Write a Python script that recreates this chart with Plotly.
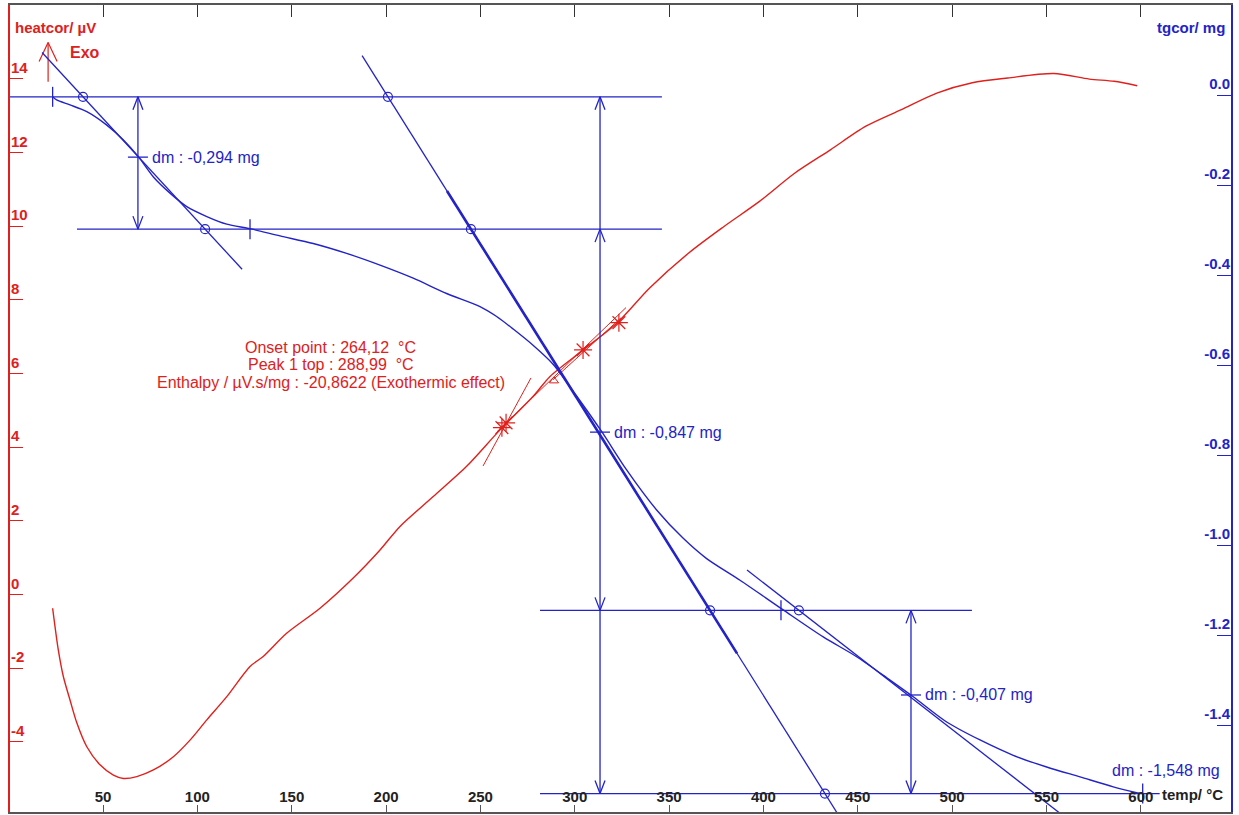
import plotly.graph_objects as go

RED = "#e0201c"
BLUE = "#2323c8"
GRAY = "#555555"
FONT = "Arial, Liberation Sans, sans-serif"

# ---------------- data ----------------
dsc_temp = [23.3, 26.3, 29.0, 32.5, 36.1, 41.4, 48.4, 55.5, 60.8, 67.9, 76.7, 87.3, 96.1,
            105.0, 115.6, 127.9, 134.9, 147.3, 165.0, 182.6, 196.8, 207.4, 225.0, 242.7,
            260.4, 278.0, 286.9, 304.5, 322.4, 339.7, 360.4, 379.1, 397.9, 416.7, 435.5,
            454.3, 473.1, 491.9, 510.7, 529.5, 553.9, 572.7, 585.9, 598.1]
dsc_heat = [-0.37, -1.50, -2.23, -2.86, -3.48, -4.13, -4.62, -4.90, -4.99, -4.94, -4.76,
            -4.40, -3.95, -3.40, -2.77, -1.95, -1.68, -1.05, -0.37, 0.45, 1.21, 1.85, 2.66,
            3.48, 4.47, 5.38, 5.92, 6.64, 7.37, 8.32, 9.27, 9.99, 10.67, 11.44, 12.07, 12.71,
            13.16, 13.61, 13.89, 14.02, 14.14, 13.99, 13.93, 13.81]

tg_temp = [23.3, 25.4, 32.5, 41.4, 52.0, 60.8, 68.7, 76.7, 85.5, 94.4, 105.0, 115.6, 127.9,
           143.8, 161.4, 179.1, 196.8, 214.4, 232.1, 249.8, 258.6, 267.4, 277.9, 288.5,
           300.7, 314.3, 327.5, 343.4, 357.5, 369.9, 387.6, 410.5, 431.7, 449.4, 467.1,
           479.4, 497.1, 514.8, 532.4, 550.1, 567.8, 585.4, 599.5]
tg_mass = [-0.004, -0.011, -0.022, -0.037, -0.067, -0.100, -0.137, -0.182, -0.218, -0.248,
           -0.270, -0.287, -0.297, -0.313, -0.330, -0.352, -0.378, -0.407, -0.441, -0.470,
           -0.492, -0.520, -0.556, -0.598, -0.667, -0.748, -0.833, -0.922, -0.985, -1.030,
           -1.078, -1.144, -1.204, -1.248, -1.300, -1.337, -1.393, -1.433, -1.467, -1.493,
           -1.515, -1.537, -1.552]

x_ticks = [50, 100, 150, 200, 250, 300, 350, 400, 450, 500, 550, 600]
heat_ticks = [-4, -2, 0, 2, 4, 6, 8, 10, 12, 14]
heat_ticktext = ["-4", "-2", "0", "2", "4", "6", "8", "10", "12", "14"]
mass_ticks = [0.0, -0.2, -0.4, -0.6, -0.8, -1.0, -1.2, -1.4]
mass_ticktext = ["0.0", "-0.2", "-0.4", "-0.6", "-0.8", "-1.0", "-1.2", "-1.4"]

# mass-step analysis
step_levels = [-0.004, -0.298, -1.145, -1.552]          # mg
step_mark_temp = [23.3, 127.9, 409.3, 601.0]             # °C
level_extent = [(0.7, 346.2), (36.2, 346.2), (281.6, 510.5), (281.6, 610.0)]
arrow_temp = [68.5, 313.4, 478.2]
arrow_mid = [-0.138, -0.749, -1.333]
dm_labels = ["dm : -0,294 mg", "dm : -0,847 mg", "dm : -0,407 mg", "dm : -1,548 mg"]

# tangents: (anchor temp, anchor mass, slope °C per mg, start temp, end temp)
tan1 = (39.4, -0.004, 64.7 / 0.294, 17.7, 123.7)
tan2 = (201.0, -0.004, 231.6 / 1.548, 187.3, 439.5)
tan2_thick = (232.3, 386.0)
tan3 = (418.8, -1.145, 306.9, 391.3, 559.8)

# DSC evaluation
onset_temp, onset_heat = 263.6, 4.66
onset2_temp, onset2_heat = 261.4, 4.53
peak_temp, peak_heat = 289.0, 5.80
star_temp = [304.4, 323.4]
star_heat = [6.64, 7.38]
dsc_lines = [((251.4, 3.49), (276.8, 5.88)),
             ((258.8, 4.42), (327.2, 7.79)),
             ((288.5, 5.83), (324.5, 7.51))]
dsc_text = ["Onset point : 264,12 \u00a0°C", "Peak 1 top : 288,99 \u00a0°C",
            "Enthalpy / µV.s/mg : -20,8622 (Exothermic effect)"]
dsc_text_y = [6.70, 6.24, 5.75]

X_RANGE = [0.7, 647.8]
HEAT_RANGE = [-5.9, 16.0]
MASS_RANGE = [-1.593, 0.2]

# pixel-size helpers (style only)
PX_T = (X_RANGE[1] - X_RANGE[0]) / 1221.0
PX_M = (MASS_RANGE[1] - MASS_RANGE[0]) / 807.0
PX_V = (HEAT_RANGE[1] - HEAT_RANGE[0]) / 807.0


def tan_mass(t, tan):
    t0, m0, k = tan[0], tan[1], tan[2]
    return m0 - (t - t0) / k


def tan_temp(m, tan):
    t0, m0, k = tan[0], tan[1], tan[2]
    return t0 + (m0 - m) * k


fig = go.Figure()

# ---------------- curves ----------------
fig.add_trace(go.Scatter(x=dsc_temp, y=dsc_heat, mode="lines", yaxis="y",
                         line=dict(color=RED, width=1.4, shape="spline", smoothing=0.8),
                         hoverinfo="skip"))
fig.add_trace(go.Scatter(x=tg_temp, y=tg_mass, mode="lines", yaxis="y2",
                         line=dict(color=BLUE, width=1.4, shape="spline", smoothing=0.8),
                         hoverinfo="skip"))

# ---------------- blue construction lines ----------------
bx, by = [], []
for lvl, (a, b) in zip(step_levels, level_extent):
    bx += [a, b, None]
    by += [lvl, lvl, None]
for t, lvl in zip(step_mark_temp, step_levels):
    bx += [t, t, None]
    by += [lvl + 10 * PX_M, lvl - 10 * PX_M, None]
arrow_spans = [(0, 1), (0, 3), (2, 3)]
for t, (i, j) in zip(arrow_temp, arrow_spans):
    bx += [t, t, None]
    by += [step_levels[i], step_levels[j], None]
for t, m in zip(arrow_temp, arrow_mid):
    bx += [t - 10 * PX_T, t + 10 * PX_T, None]
    by += [m, m, None]
heads = [(arrow_temp[0], step_levels[0], 1), (arrow_temp[0], step_levels[1], -1),
         (arrow_temp[1], step_levels[0], 1), (arrow_temp[1], step_levels[3], -1),
         (arrow_temp[1], step_levels[1], 1), (arrow_temp[1], step_levels[2], -1),
         (arrow_temp[2], step_levels[2], 1), (arrow_temp[2], step_levels[3], -1)]
for t, lvl, d in heads:
    bx += [t - 5 * PX_T, t, t + 5 * PX_T, None]
    by += [lvl - d * 13 * PX_M, lvl, lvl - d * 13 * PX_M, None]
for tan in (tan1, tan2, tan3):
    bx += [tan[3], tan[4], None]
    by += [tan_mass(tan[3], tan), tan_mass(tan[4], tan), None]
fig.add_trace(go.Scatter(x=bx, y=by, mode="lines", yaxis="y2",
                         line=dict(color=BLUE, width=1.3), hoverinfo="skip"))
fig.add_trace(go.Scatter(x=list(tan2_thick), y=[tan_mass(t, tan2) for t in tan2_thick],
                         mode="lines", yaxis="y2", line=dict(color=BLUE, width=2.6),
                         hoverinfo="skip"))

cx = [tan_temp(step_levels[0], tan1), tan_temp(step_levels[1], tan1)]
cy = [step_levels[0], step_levels[1]]
for lvl in step_levels:
    cx.append(tan_temp(lvl, tan2))
    cy.append(lvl)
cx.append(tan_temp(step_levels[2], tan3))
cy.append(step_levels[2])
fig.add_trace(go.Scatter(x=cx, y=cy, mode="markers", yaxis="y2",
                         marker=dict(symbol="circle-open", size=9, color=BLUE,
                                     line=dict(width=1.2, color=BLUE)),
                         hoverinfo="skip"))

# ---------------- red DSC evaluation ----------------
rx, ry = [], []
for (p, q) in dsc_lines:
    rx += [p[0], q[0], None]
    ry += [p[1], q[1], None]
fig.add_trace(go.Scatter(x=rx, y=ry, mode="lines", yaxis="y",
                         line=dict(color=RED, width=1.0), hoverinfo="skip"))
fig.add_trace(go.Scatter(x=[onset_temp, onset2_temp] + star_temp,
                         y=[onset_heat, onset2_heat] + star_heat,
                         mode="markers", yaxis="y",
                         marker=dict(symbol="asterisk-open", size=15, color=RED,
                                     line=dict(width=1.2, color=RED)),
                         hoverinfo="skip"))
fig.add_trace(go.Scatter(x=[peak_temp], y=[peak_heat], mode="markers", yaxis="y",
                         marker=dict(symbol="triangle-up-open", size=8, color=RED,
                                     line=dict(width=1, color=RED)),
                         hoverinfo="skip"))

# Exo arrow
exo_t, exo_top, exo_bot = 20.9, 14.98, 13.92
fig.add_trace(go.Scatter(x=[exo_t, exo_t, None, exo_t - 9 * PX_T, exo_t, exo_t + 9 * PX_T],
                         y=[exo_bot, exo_top, None, exo_top - 19 * PX_V, exo_top,
                            exo_top - 19 * PX_V],
                         mode="lines", yaxis="y", line=dict(color=RED, width=1.2),
                         hoverinfo="skip"))

fig.add_trace(go.Scatter(x=[None], y=[None], xaxis="x2", yaxis="y", showlegend=False))

# ---------------- annotations ----------------
ann = []
for t, m, lab in zip(arrow_temp, arrow_mid, dm_labels[:3]):
    ann.append(dict(x=t, y=m, xref="x", yref="y2", text=lab, showarrow=False,
                    xanchor="left", yanchor="middle", xshift=12,
                    font=dict(family=FONT, size=16, color=BLUE)))
ann.append(dict(x=643, y=-1.50, xref="x", yref="y2", text=dm_labels[3], showarrow=False,
                xanchor="right", yanchor="middle",
                font=dict(family=FONT, size=16, color=BLUE)))
for txt, yv in zip(dsc_text, dsc_text_y):
    ann.append(dict(x=170.8, y=yv, xref="x", yref="y", text=txt, showarrow=False,
                    xanchor="center", yanchor="middle",
                    font=dict(family=FONT, size=16, color=RED)))
ann.append(dict(x=31.5, y=14.71, xref="x", yref="y", text="<b>Exo</b>", showarrow=False,
                xanchor="left", yanchor="middle",
                font=dict(family=FONT, size=16, color=RED)))
ann.append(dict(x=0.0025, y=0.9727, xref="paper", yref="paper", text="<b>heatcor/ µV</b>",
                showarrow=False, xanchor="left", yanchor="middle",
                font=dict(family=FONT, size=15, color=RED)))
ann.append(dict(x=0.9967, y=0.9715, xref="paper", yref="paper", text="<b>tgcor/ mg</b>",
                showarrow=False, xanchor="right", yanchor="middle",
                font=dict(family=FONT, size=15, color=BLUE)))
ann.append(dict(x=0.9419, y=0.0211, xref="paper", yref="paper", text="<b>temp/ °C</b>",
                showarrow=False, xanchor="left", yanchor="middle",
                font=dict(family=FONT, size=15, color="#222222")))

fig.update_layout(
    width=1239, height=815,
    margin=dict(l=10, r=8, t=5, b=3, pad=0),
    paper_bgcolor="white", plot_bgcolor="white",
    showlegend=False,
    annotations=ann,
    xaxis=dict(range=X_RANGE, tickvals=x_ticks, ticks="inside", ticklen=7,
               tickcolor=GRAY, ticklabelposition="inside", showline=True, linecolor=GRAY,
               linewidth=1.5, showgrid=False, zeroline=False,
               tickfont=dict(family=FONT, size=15, color="#222222", weight="bold")),
    xaxis2=dict(range=X_RANGE, overlaying="x", side="top", tickvals=x_ticks,
                ticks="inside", ticklen=12, tickcolor="#333333", showticklabels=False,
                showline=True, linecolor=GRAY, linewidth=1.5, showgrid=False,
                zeroline=False),
    yaxis=dict(range=HEAT_RANGE, tickvals=heat_ticks, ticktext=heat_ticktext,
               ticks="inside", ticklen=13, tickcolor=RED, tickwidth=1.3,
               ticklabelposition="inside top", showline=True, linecolor=RED, linewidth=2,
               showgrid=False, zeroline=False,
               tickfont=dict(family=FONT, size=15, color=RED, weight="bold")),
    yaxis2=dict(range=MASS_RANGE, overlaying="y", side="right", tickvals=mass_ticks,
                ticktext=mass_ticktext, ticks="inside", ticklen=14, tickcolor=BLUE,
                tickwidth=1.3, ticklabelposition="inside top", showline=True,
                linecolor=BLUE, linewidth=2, showgrid=False, zeroline=False,
                tickfont=dict(family=FONT, size=15, color=BLUE, weight="bold")),
)

fig.write_html("out.html")
